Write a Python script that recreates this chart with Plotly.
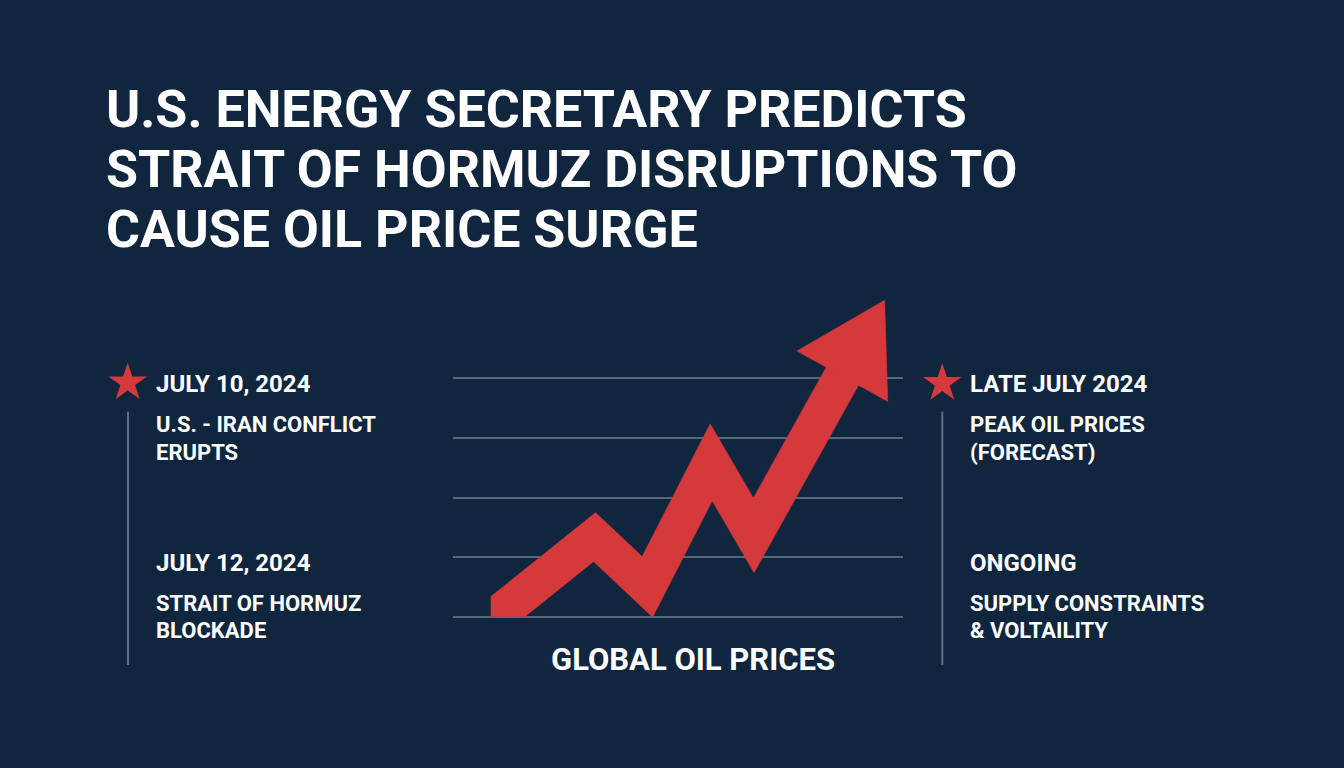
import math
import plotly.graph_objects as go

W, H = 1344, 768
BG = "#10263F"
RED = "#D5393C"
GRID = "#56677D"
VLINE = "#5E6E82"
WHITE = "#FFFFFF"
FONT = "Roboto"

# ---------------- data ----------------
title_lines = [
    "U.S. ENERGY SECRETARY PREDICTS",
    "STRAIT OF HORMUZ DISRUPTIONS TO",
    "CAUSE OIL PRICE SURGE",
]
# oil-price trajectory (illustrative index): time step vs price level
price_day = [-0.26, 2.54, 3.83, 5.39, 6.43, 9.63]
price_level = [-0.30, 1.95, 0.73, 3.78, 1.99, 7.75]
grid_levels = [0, 1, 2, 3, 4]
chart_label = "GLOBAL OIL PRICES"

left_dates = ["JULY 10, 2024", "JULY 12, 2024"]
left_events = [["U.S. - IRAN CONFLICT", "ERUPTS"], ["STRAIT OF HORMUZ", "BLOCKADE"]]
right_dates = ["LATE JULY 2024", "ONGOING"]
right_events = [["PEAK OIL PRICES", "(FORECAST)"], ["SUPPLY CONSTRAINTS", "& VOLTAILITY"]]

# ---------------- layout geometry (pixels) ----------------
GRID_X0, GRID_X1 = 453, 903
GRID_Y0, GRID_Y1 = 616.7, 378.3          # pixel rows of the lowest / highest grid level
GRID_PAD = 0.2                           # extra range (in levels) above/below
ARW_X0, ARW_X1 = 490.7, 910              # arrow plot area
ARW_Y0, ARW_Y1 = 616.7, 290
ARW_XR = (0, 10.25)
ARW_YR = (0, 8.0)
HALF_W = 18.5                            # half thickness of the arrow body (px)
HEAD_LEN = 87
HEAD_HALF = 52


def px(x):
    return x / W


def py(y):
    return 1 - y / H


xs_per_px = (ARW_XR[1] - ARW_XR[0]) / (ARW_X1 - ARW_X0)
ys_per_px = (ARW_YR[1] - ARW_YR[0]) / (ARW_Y0 - ARW_Y1)


def to_px(x, y):
    return (x - ARW_XR[0]) / xs_per_px, (y - ARW_YR[0]) / ys_per_px   # y up


def to_data(u, v):
    return ARW_XR[0] + u * xs_per_px, ARW_YR[0] + v * ys_per_px


# points of the trajectory in pixel space (y up)
pts = [to_px(x, y) for x, y in zip(price_day, price_level)]
tip = pts[-1]
prev = pts[-2]
dx, dy = tip[0] - prev[0], tip[1] - prev[1]
L = math.hypot(dx, dy)
ux, uy = dx / L, dy / L
base = (tip[0] - HEAD_LEN * ux, tip[1] - HEAD_LEN * uy)
shaft_end = (tip[0] - (HEAD_LEN - 8) * ux, tip[1] - (HEAD_LEN - 8) * uy)
shaft = pts[:-1] + [shaft_end]


def normal(a, b):
    ddx, ddy = b[0] - a[0], b[1] - a[1]
    ll = math.hypot(ddx, ddy)
    return -ddy / ll, ddx / ll


left, right = [], []
n = len(shaft)
for i in range(n):
    if i == 0:
        nx, ny = normal(shaft[0], shaft[1])
        ox, oy = nx * HALF_W, ny * HALF_W
    elif i == n - 1:
        nx, ny = normal(shaft[-2], shaft[-1])
        ox, oy = nx * HALF_W, ny * HALF_W
    else:
        n1 = normal(shaft[i - 1], shaft[i])
        n2 = normal(shaft[i], shaft[i + 1])
        d = 1 + n1[0] * n2[0] + n1[1] * n2[1]
        ox = HALF_W * (n1[0] + n2[0]) / d
        oy = HALF_W * (n1[1] + n2[1]) / d
    p = shaft[i]
    left.append((p[0] + ox, p[1] + oy))
    right.append((p[0] - ox, p[1] - oy))

body = left + right[::-1] + [left[0]]
body_x, body_y = zip(*[to_data(u, v) for u, v in body])

perpx, perpy = -uy, ux
head = [tip,
        (base[0] + HEAD_HALF * perpx, base[1] + HEAD_HALF * perpy),
        (base[0] - HEAD_HALF * perpx, base[1] - HEAD_HALF * perpy),
        tip]
head_x, head_y = zip(*[to_data(u, v) for u, v in head])

fig = go.Figure()

# grid subplot (x/y)
fig.add_trace(go.Scatter(x=[0, 1], y=[grid_levels[0], grid_levels[-1]], mode="markers",
                         marker=dict(opacity=0), hoverinfo="skip", showlegend=False,
                         xaxis="x", yaxis="y"))

# arrow body and head
fig.add_trace(go.Scatter(x=list(body_x), y=list(body_y), mode="lines", fill="toself",
                         fillcolor=RED, line=dict(color=RED, width=0.5), hoverinfo="skip",
                         showlegend=False, xaxis="x2", yaxis="y2"))
fig.add_trace(go.Scatter(x=list(head_x), y=list(head_y), mode="lines", fill="toself",
                         fillcolor=RED, line=dict(color=RED, width=0.5), hoverinfo="skip",
                         showlegend=False, xaxis="x2", yaxis="y2"))

# timeline stars
fig.add_trace(go.Scatter(x=[px(127.7), px(942.3)], y=[py(382.7), py(383.3)], mode="markers",
                         marker=dict(symbol="star", size=29, color=RED, line=dict(width=0)),
                         hoverinfo="skip", showlegend=False, xaxis="x3", yaxis="y3"))

shapes = []
for xline in (128, 942.3):
    shapes.append(dict(type="line", xref="paper", yref="paper",
                       x0=px(xline), x1=px(xline), y0=py(411.7), y1=py(665),
                       line=dict(color=VLINE, width=2)))

ann = []


def txt(s, x, y, size, anchor="left"):
    ann.append(dict(text=s, x=px(x), y=py(y), xref="paper", yref="paper",
                    xanchor=anchor, yanchor="middle", showarrow=False,
                    font=dict(family=FONT, size=size, color=WHITE, weight="bold")))


for i, s in enumerate(title_lines):
    txt(s, 104, [109.7, 169.5, 229.3][i], 52)

date_y = [383.7, 563.3]
ev_y = [[424.5, 452], [603, 630.3]]
for i in range(2):
    txt(left_dates[i], 154, date_y[i], 24)
    txt(right_dates[i], 968, date_y[i], 24)
    for j in range(2):
        txt(left_events[i][j], 154, ev_y[i][j], 22)
        txt(right_events[i][j], 968, ev_y[i][j], 22)

txt(chart_label, 693, 659, 31, anchor="center")

lvl_px = (GRID_Y0 - GRID_Y1) / (grid_levels[-1] - grid_levels[0])
fig.update_layout(
    width=W, height=H, margin=dict(l=0, r=0, t=0, b=0),
    paper_bgcolor=BG, plot_bgcolor="rgba(0,0,0,0)",
    shapes=shapes, annotations=ann,
    xaxis=dict(domain=[px(GRID_X0), px(GRID_X1)], range=[0, 1], visible=False, fixedrange=True),
    yaxis=dict(domain=[py(GRID_Y0 + GRID_PAD * lvl_px), py(GRID_Y1 - GRID_PAD * lvl_px)],
               range=[grid_levels[0] - GRID_PAD, grid_levels[-1] + GRID_PAD],
               tickvals=grid_levels, showticklabels=False, showgrid=True, gridcolor=GRID,
               gridwidth=1.5, zeroline=False, showline=False, ticks="", fixedrange=True),
    xaxis2=dict(domain=[px(ARW_X0), px(ARW_X1)], range=list(ARW_XR), visible=False, fixedrange=True),
    yaxis2=dict(domain=[py(ARW_Y0), py(ARW_Y1)], range=list(ARW_YR), visible=False, fixedrange=True),
    xaxis3=dict(domain=[0, 1], range=[0, 1], visible=False, fixedrange=True),
    yaxis3=dict(domain=[0, 1], range=[0, 1], visible=False, fixedrange=True),
)

fig.write_html("out.html", config={"displayModeBar": False},
               post_script="document.body.style.margin='0';document.body.style.overflow='hidden';")
